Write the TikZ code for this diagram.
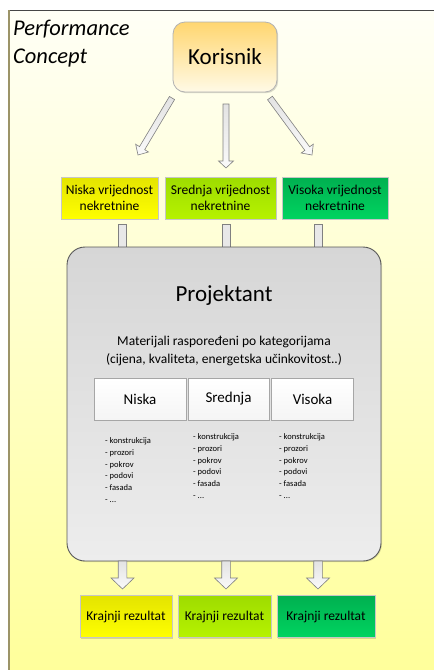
\documentclass[tikz,border=0pt]{standalone}
\usepackage{fontspec}
\setmainfont{Carlito}
\usetikzlibrary{calc,shadows}
\definecolor{bgtop}{RGB}{255,255,246}
\definecolor{bgbot}{RGB}{255,255,155}
\definecolor{topline}{RGB}{70,70,70}
\definecolor{leftline}{RGB}{156,148,104}
\definecolor{kortop}{RGB}{255,214,112}
\definecolor{korbot}{RGB}{255,250,230}
\definecolor{yeltop}{RGB}{228,228,0}
\definecolor{yelbot}{RGB}{255,255,0}
\definecolor{limtop}{RGB}{158,220,0}
\definecolor{limbot}{RGB}{182,242,0}
\definecolor{grntop}{RGB}{0,176,80}
\definecolor{grnbot}{RGB}{0,212,96}
\definecolor{protop}{RGB}{214,214,214}
\definecolor{probot}{RGB}{237,237,237}
\definecolor{arrline}{RGB}{128,128,128}
\tikzset{
  shad/.style={drop shadow={shadow xshift=1.2pt,shadow yshift=-1.2pt,opacity=0.15,fill=black}},
  korbox/.style={draw=gray!60, line width=0.8pt, rounded corners=12pt, top color=kortop, bottom color=korbot, minimum width=104pt, minimum height=70pt, font=\fontsize{23}{27}\selectfont, shad},
  valbox/.style={draw=gray!45, line width=0.8pt, minimum height=42pt, inner sep=0pt, align=center, font=\fontsize{13.5}{16.5}\selectfont, shad},
  probox/.style={draw=black!65, line width=0.9pt, rounded corners=18pt, top color=protop, bottom color=probot, minimum width=314pt, minimum height=314pt},
  catbox/.style={draw=gray!70, line width=0.7pt, top color=white, bottom color=gray!8, minimum height=42pt, font=\fontsize{15}{18}\selectfont},
  listtxt/.style={align=left, anchor=north west, inner sep=0pt, font=\fontsize{8.5}{11.7}\selectfont},
  arrstyle/.style={draw=arrline, line width=0.6pt, top color=gray!22, bottom color=gray!4},
  stubstyle/.style={draw=arrline, line width=0.6pt, fill=gray!18},
}
\newcommand{\blockarrow}[5]{%
  \coordinate (ba-h) at ($(#2)!#5!(#1)$);
  \path[arrstyle] ($(#1)!#3!90:(#2)$) -- ($(ba-h)!#3!90:(#2)$) -- ($(ba-h)!#4!90:(#2)$) -- (#2)
     -- ($(ba-h)!#4!-90:(#2)$) -- ($(ba-h)!#3!-90:(#2)$) -- ($(#1)!#3!-90:(#2)$) -- cycle;
}
\begin{document}
\begin{tikzpicture}[x=1pt,y=-1pt]
\useasboundingbox (0,0) rectangle (434,670);
\fill[white] (0,0) rectangle (434,670);
\shade[top color=bgtop, bottom color=bgbot] (9,10) rectangle (434,670);
\draw[topline, line width=1.3pt] (8,10.5) -- (434,10.5);
\draw[leftline, line width=2pt] (9,10) -- (9,670);

\node[anchor=base west, inner sep=0pt, font=\itshape\fontsize{22.5}{28}\selectfont] (t1) at (13,35) {Performance};
\node[anchor=base west, inner sep=0pt, font=\itshape\fontsize{22.5}{28}\selectfont] (t2) at (13,63) {Concept};

\node[korbox] (kor) at (225,57) {Korisnik};

\node[valbox, minimum width=97pt, top color=yeltop, bottom color=yelbot] (v1) at (109.5,198) {Niska vrijednost\\nekretnine};
\node[valbox, minimum width=111pt, top color=limtop, bottom color=limbot] (v2) at (220.5,198) {Srednja vrijednost\\nekretnine};
\node[valbox, minimum width=106pt, top color=grntop, bottom color=grnbot] (v3) at (335,198) {Visoka vrijednost\\nekretnine};

% arrows from Korisnik
\coordinate (a1s) at (172,98);  \coordinate (a1e) at (138,155);
\coordinate (a2s) at (226,104); \coordinate (a2e) at (226,168);
\coordinate (a3s) at (270,98);  \coordinate (a3e) at (312,155);
\blockarrow{a1s}{a1e}{3pt}{7.5pt}{8pt}
\blockarrow{a2s}{a2e}{3pt}{7.5pt}{7pt}
\blockarrow{a3s}{a3e}{3pt}{7.5pt}{8pt}

% stubs
\path[stubstyle] (118,224) rectangle (126,248);
\path[stubstyle] (222,224) rectangle (230,248);
\path[stubstyle] (314,224) rectangle (322,248);
\node[probox, drop shadow={shadow xshift=1pt,shadow yshift=-1pt,opacity=0.12,fill=black}] (pro) at (224,404) {};

\node[font=\fontsize{23}{27}\selectfont] (ptitle) at (224,295) {Projektant};
\node[align=center, font=\fontsize{13.5}{18}\selectfont] (pdesc) at (224,351) {Materijali raspoređeni po kategorijama\\(cijena, kvaliteta, energetska učinkovitost..)};

\node[catbox, minimum width=92pt] (c1) at (140,399) {Niska};
\node[catbox, minimum width=81pt] (c2) at (228.5,399) {Srednja};
\node[catbox, minimum width=82pt] (c3) at (312.5,399) {Visoka};

\node[listtxt] (l1) at (105,437.5) {- konstrukcija\\- prozori\\- pokrov\\- podovi\\- fasada\\- ...};
\node[listtxt] (l2) at (193,433.5) {- konstrukcija\\- prozori\\- pokrov\\- podovi\\- fasada\\- ...};
\node[listtxt] (l3) at (279,433.5) {- konstrukcija\\- prozori\\- pokrov\\- podovi\\- fasada\\- ...};

% bottom arrows
\coordinate (b1s) at (122.5,561); \coordinate (b1e) at (122.5,589);
\coordinate (b2s) at (226,561);   \coordinate (b2e) at (226,589);
\coordinate (b3s) at (318,561);   \coordinate (b3e) at (318,589);
\blockarrow{b1s}{b1e}{4.3pt}{11.5pt}{11pt}
\blockarrow{b2s}{b2e}{4.3pt}{11.5pt}{11pt}
\blockarrow{b3s}{b3e}{4.3pt}{11.5pt}{11pt}

\node[valbox, minimum width=92pt, top color=yeltop, bottom color=yelbot] (r1) at (126,616.5) {Krajnji rezultat};
\node[valbox, minimum width=93pt, top color=limtop, bottom color=limbot] (r2) at (224.5,616.5) {Krajnji rezultat};
\node[valbox, minimum width=98pt, top color=grntop, bottom color=grnbot] (r3) at (326,616.5) {Krajnji rezultat};
\end{tikzpicture}
\end{document}
